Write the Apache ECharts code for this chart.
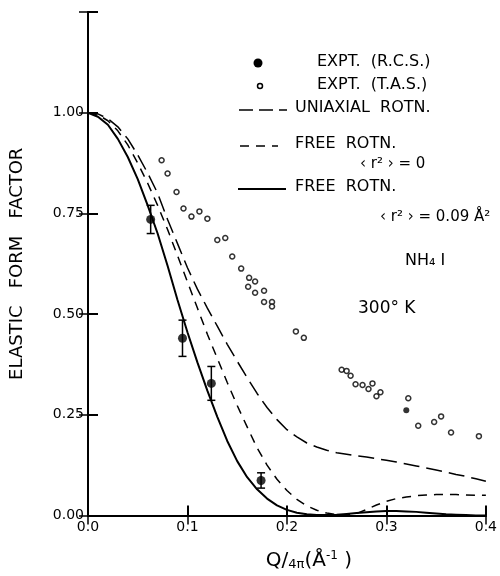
<!DOCTYPE html>
<html>
<head>
    <meta charset="utf-8">
    <title>Elastic form factor NH4I</title>
    <script src="https://cdn.jsdelivr.net/npm/echarts@6/dist/echarts.min.js"></script>
</head>
<body style="margin:0;background:#fff;">
    <div id="main" style="width:500px;height:576px;"></div>
    <script type="text/javascript">
        // Q/4pi grid shared by the three model curves
        var qGrid = [0, 0.01, 0.02, 0.03, 0.04, 0.05, 0.06, 0.07, 0.08, 0.09,
                     0.10, 0.11, 0.12, 0.13, 0.14, 0.15, 0.16, 0.17, 0.18, 0.19,
                     0.20, 0.21, 0.22, 0.23, 0.24, 0.25, 0.26, 0.27, 0.28, 0.29,
                     0.30, 0.31, 0.32, 0.33, 0.34, 0.35, 0.36, 0.37, 0.38, 0.39, 0.40];
        // uniaxial rotation (long dash)
        var uniaxF = [1.00, 0.997, 0.985, 0.965, 0.935, 0.895, 0.85, 0.80, 0.735, 0.675,
                      0.615, 0.562, 0.515, 0.47, 0.425, 0.383, 0.342, 0.303, 0.268, 0.238,
                      0.213, 0.195, 0.18, 0.17, 0.162, 0.156, 0.152, 0.148, 0.145, 0.141,
                      0.137, 0.133, 0.128, 0.123, 0.118, 0.113, 0.108, 0.102, 0.097, 0.091, 0.085];
        // free rotation <r2> = 0 (short dash)
        var freeF0 = [1.00, 0.995, 0.98, 0.955, 0.92, 0.875, 0.825, 0.77, 0.71, 0.645,
                      0.58, 0.515, 0.45, 0.39, 0.33, 0.273, 0.22, 0.168, 0.125, 0.09,
                      0.062, 0.04, 0.024, 0.013, 0.006, 0.002, 0.001, 0.005, 0.015, 0.026,
                      0.035, 0.042, 0.046, 0.049, 0.051, 0.052, 0.052, 0.052, 0.051, 0.05, 0.05];
        // free rotation <r2> = 0.09 A^2 (solid)
        var freeF9 = [1.00, 0.99, 0.97, 0.935, 0.89, 0.835, 0.77, 0.70, 0.62, 0.535,
                      0.455, 0.38, 0.31, 0.245, 0.185, 0.135, 0.095, 0.065, 0.042, 0.025,
                      0.014, 0.007, 0.003, 0.001, 0.001, 0.002, 0.004, 0.006, 0.008, 0.01,
                      0.011, 0.011, 0.01, 0.009, 0.007, 0.005, 0.003, 0.002, 0.001, 0, 0];

        // EXPT. (R.C.S.) with error bars
        var rcsQ = [0.063, 0.095, 0.124, 0.174];
        var rcsF = [0.735, 0.44, 0.328, 0.087];
        var rcsErr = [0.035, 0.045, 0.042, 0.019];

        // EXPT. (T.A.S.)
        var tasQ = [0.074, 0.080, 0.089, 0.096, 0.104, 0.112, 0.120, 0.130, 0.138, 0.145,
                    0.154, 0.162, 0.168, 0.161, 0.168, 0.177, 0.177, 0.185, 0.185, 0.209,
                    0.217, 0.255, 0.260, 0.264, 0.269, 0.276, 0.286, 0.282, 0.294, 0.290,
                    0.322, 0.332, 0.348, 0.355, 0.365, 0.393];
        var tasF = [0.882, 0.849, 0.803, 0.762, 0.742, 0.755, 0.737, 0.684, 0.689, 0.643,
                    0.613, 0.59, 0.581, 0.568, 0.553, 0.558, 0.530, 0.530, 0.519, 0.457,
                    0.441, 0.362, 0.359, 0.347, 0.326, 0.324, 0.328, 0.314, 0.306, 0.296,
                    0.291, 0.223, 0.232, 0.246, 0.206, 0.197];
        // one heavily printed T.A.S. point
        var tasDarkQ = [0.320];
        var tasDarkF = [0.261];

        var xTicks = ['0.0', '0.1', '0.2', '0.3', '0.4'];
        var yTicks = ['0.00', '0.25', '0.50', '0.75', '1.00'];

        function pairs(xs, ys) {
            var out = [];
            for (var i = 0; i < xs.length; i++) out.push([xs[i], ys[i]]);
            return out;
        }
        var errData = [];
        for (var i = 0; i < rcsQ.length; i++) {
            errData.push([rcsQ[i], rcsF[i] - rcsErr[i], rcsF[i] + rcsErr[i]]);
        }

        var font = 'DejaVu Sans';
        var ink = '#000';
        var txt = '16px "DejaVu Sans"';
        var myChart = echarts.init(document.getElementById('main'));

        var option = {
            backgroundColor: '#fff',
            animation: false,
            grid: { left: 87, right: 13, top: 12, bottom: 59 },
            xAxis: [{
                type: 'value', min: 0, max: 0.4, interval: 0.1,
                name: 'Q/{s|4π}(Å{sup|-1} )',
                nameLocation: 'middle', nameGap: 34,
                nameTextStyle: {
                    fontFamily: font, fontSize: 20, color: ink, padding: [0, 0, 0, 44],
                    rich: {
                        s: { fontFamily: font, fontSize: 13, color: ink, padding: [7, 0, 0, 0] },
                        sup: { fontFamily: font, fontSize: 12, color: ink, padding: [0, 0, 11, 0] }
                    }
                },
                axisLine: { lineStyle: { color: ink, width: 2 } },
                axisTick: { inside: true, length: 10, lineStyle: { color: ink, width: 2 } },
                axisLabel: {
                    fontFamily: font, fontSize: 14, color: ink, margin: 5,
                    formatter: function (v) { return xTicks[Math.round(v * 10)]; }
                },
                splitLine: { show: false }
            }, {
                type: 'value', position: 'top', min: 0, max: 0.4, interval: 0.1,
                axisLine: { show: true, lineStyle: { color: ink, width: 2 } },
                axisTick: { inside: true, length: 9, lineStyle: { color: ink, width: 1.5 } },
                axisLabel: { show: false },
                splitLine: { show: false }
            }],
            yAxis: [{
                type: 'value', min: 0, max: 1.25, interval: 0.25,
                name: 'ELASTIC   FORM   FACTOR',
                nameLocation: 'middle', nameGap: 62,
                nameTextStyle: { fontFamily: font, fontSize: 18, color: ink },
                axisLine: { show: true, lineStyle: { color: ink, width: 2 } },
                axisTick: { inside: true, length: 10, lineStyle: { color: ink, width: 2 } },
                axisLabel: {
                    fontFamily: font, fontSize: 14, color: ink, margin: 4,
                    formatter: function (v) {
                        var k = Math.round(v * 4);
                        return k < yTicks.length ? yTicks[k] : '';
                    }
                },
                splitLine: { show: false }
            }, {
                type: 'value', position: 'right', min: 0, max: 1.25, interval: 0.25,
                axisLine: { show: true, lineStyle: { color: ink, width: 2 } },
                axisTick: { inside: true, length: 9, lineStyle: { color: ink, width: 1.5 } },
                axisLabel: { show: false },
                splitLine: { show: false }
            }],
            graphic: [
                { type: 'circle', shape: { cx: 258, cy: 63, r: 4.5 }, style: { fill: ink } },
                { type: 'circle', shape: { cx: 260, cy: 86, r: 2.5 }, style: { fill: '#fff', stroke: ink, lineWidth: 1.5 } },
                { type: 'line', shape: { x1: 239, y1: 110, x2: 287, y2: 110 }, style: { stroke: ink, lineWidth: 1.5, lineDash: [14, 6] } },
                { type: 'line', shape: { x1: 240, y1: 146, x2: 278, y2: 146 }, style: { stroke: ink, lineWidth: 1.5, lineDash: [9, 7] } },
                { type: 'line', shape: { x1: 238, y1: 189, x2: 286, y2: 189 }, style: { stroke: ink, lineWidth: 2 } },
                { type: 'text', left: 317, top: 54, style: { text: 'EXPT.  (R.C.S.)', font: txt, fill: ink } },
                { type: 'text', left: 317, top: 77, style: { text: 'EXPT.  (T.A.S.)', font: txt, fill: ink } },
                { type: 'text', left: 295, top: 100, style: { text: 'UNIAXIAL  ROTN.', font: txt, fill: ink } },
                { type: 'text', left: 295, top: 136, style: { text: 'FREE  ROTN.', font: txt, fill: ink } },
                { type: 'text', left: 360, top: 157, style: { text: '‹ r² › = 0', font: '15px "DejaVu Sans"', fill: ink } },
                { type: 'text', left: 295, top: 179, style: { text: 'FREE  ROTN.', font: txt, fill: ink } },
                { type: 'text', left: 380, top: 210, style: { text: '‹ r² › = 0.09 Å²', font: '15px "DejaVu Sans"', fill: ink } },
                { type: 'text', left: 405, top: 253, style: { text: 'NH₄ I', font: txt, fill: ink } },
                { type: 'text', left: 358, top: 300, style: { text: '300° K', font: '17px "DejaVu Sans"', fill: ink } }
            ],
            series: [
                {
                    name: 'UNIAXIAL ROTN.', type: 'line', data: pairs(qGrid, uniaxF),
                    showSymbol: false, lineStyle: { color: ink, width: 1.5, type: [16, 7] }
                },
                {
                    name: 'FREE ROTN. <r2> = 0', type: 'line', data: pairs(qGrid, freeF0),
                    showSymbol: false, lineStyle: { color: ink, width: 1.5, type: [9, 7] }
                },
                {
                    name: 'FREE ROTN. <r2> = 0.09', type: 'line', data: pairs(qGrid, freeF9),
                    showSymbol: false, lineStyle: { color: ink, width: 2 }
                },
                {
                    name: 'error', type: 'custom', data: errData,
                    renderItem: function (params, api) {
                        var x = api.value(0);
                        var lo = api.coord([x, api.value(1)]);
                        var hi = api.coord([x, api.value(2)]);
                        var w = 4;
                        var st = { stroke: ink, lineWidth: 1.5 };
                        return {
                            type: 'group',
                            children: [
                                { type: 'line', shape: { x1: lo[0], y1: lo[1], x2: hi[0], y2: hi[1] }, style: st },
                                { type: 'line', shape: { x1: lo[0] - w, y1: lo[1], x2: lo[0] + w, y2: lo[1] }, style: st },
                                { type: 'line', shape: { x1: hi[0] - w, y1: hi[1], x2: hi[0] + w, y2: hi[1] }, style: st }
                            ]
                        };
                    }
                },
                {
                    name: 'EXPT. (R.C.S.)', type: 'scatter', data: pairs(rcsQ, rcsF),
                    symbol: 'circle', symbolSize: 9, itemStyle: { color: ink }
                },
                {
                    name: 'EXPT. (T.A.S.)', type: 'scatter', data: pairs(tasQ, tasF),
                    symbol: 'circle', symbolSize: 5,
                    itemStyle: { color: '#fff', borderColor: ink, borderWidth: 1.5 }
                },
                {
                    name: 'EXPT. (T.A.S.) dark', type: 'scatter', data: pairs(tasDarkQ, tasDarkF),
                    symbol: 'circle', symbolSize: 6, itemStyle: { color: ink }
                }
            ]
        };
        myChart.setOption(option);
    </script>
</body>
</html>
